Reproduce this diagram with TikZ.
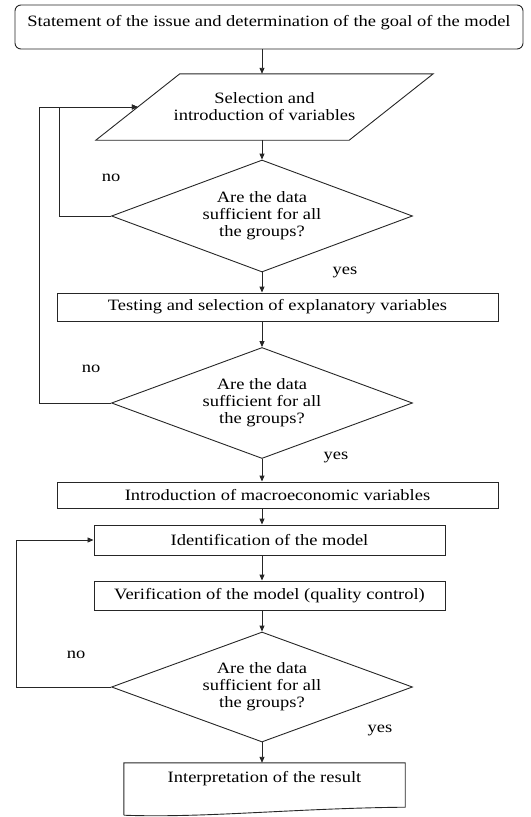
\documentclass[tikz,border=0pt]{standalone}
\usepackage{fontspec}
\setmainfont{Liberation Serif}[FakeStretch=1.17]
\usetikzlibrary{shapes.geometric,arrows.meta}
\begin{document}
\begin{tikzpicture}[x=1bp,y=-1bp,
  every node/.style={font=\fontsize{15.8bp}{17bp}\selectfont, inner sep=0pt, text=black},
  line/.style={draw=black!85, line width=0.9bp},
  arr/.style={line, -{Triangle[length=6bp,width=5bp]}},
  box/.style={line, rectangle, align=center},
  topbox/.style={line, rectangle, rounded corners=6bp, minimum width=508bp, minimum height=44bp, text height=10bp, text depth=10bp},
  dia/.style={line, diamond, aspect=2.69, align=center, minimum width=301bp},
  lbl/.style={}
]
\useasboundingbox (0,0) rectangle (531,817);

% nodes
\node[topbox] (top) at (269,27) {Statement of the issue and determination of the goal of the model};
\node[align=center, minimum width=253bp, minimum height=66bp] (par) at (264.5,107) {Selection and\\introduction of variables};
\draw[line] ([xshift=-42bp]par.south west) -- ([xshift=42bp]par.north west) -- ([xshift=42bp]par.north east) -- ([xshift=-42bp]par.south east) -- cycle;
\node[dia, minimum height=112bp] (d1) at (262,216) {Are the data\\sufficient for all\\the groups?};
\node[box, minimum width=441bp, minimum height=28bp] (test) at (277.5,307) {Testing and selection of explanatory variables};
\node[dia, minimum height=111bp] (d2) at (262,403) {Are the data\\sufficient for all\\the groups?};
\node[box, minimum width=441bp, minimum height=26bp] (intro) at (277.5,495) {Introduction of macroeconomic variables};
\node[box, minimum width=351bp, minimum height=30bp] (ident) at (269.5,540) {Identification of the model};
\node[box, minimum width=351bp, minimum height=29bp] (verif) at (269.5,595.5) {Verification of the model (quality control)};
\node[dia, minimum height=110bp] (d3) at (262,687) {Are the data\\sufficient for all\\the groups?};
\node[minimum width=281bp, minimum height=48bp, text height=11bp, text depth=21bp] (interp) at (264.5,787) {Interpretation of the result};
\draw[line] ([yshift=-4bp]interp.south west) -- (interp.north west) -- (interp.north east) -- ([yshift=4bp]interp.south east)
  .. controls +(-110,1) and +(80,3) .. ([yshift=-4bp]interp.south west);

% labels
\node (no1) at (111,178) {no};
\node (yes1) at (345,272) {yes};
\node (no2) at (91,369) {no};
\node (yes2) at (336,457) {yes};
\node (no3) at (76,655) {no};
\node (yes3) at (380,730) {yes};

% connectors
\draw[arr] (d1.north |- top.south) -- (d1.north |- par.north);
\draw[arr] (d1.north |- par.south) -- (d1.north);
\draw[arr] (d1.south) -- (d1.south |- test.north);
\draw[arr] (d1.south |- test.south) -- (d2.north);
\draw[arr] (d2.south) -- (d2.south |- intro.north);
\draw[arr] (d2.south |- intro.south) -- (d2.south |- ident.north);
\draw[arr] (d2.south |- ident.south) -- (d2.south |- verif.north);
\draw[arr] (d2.south |- verif.south) -- (d3.north);
\draw[arr] (d3.south) -- (d3.south |- interp.north);

% loops
\draw[arr] (d1.west) -- ++(-52,0) |- (par.west);
\draw[arr] (d2.west) -- ++(-72,0) |- (par.west);
\draw[arr] (d3.west) -- ++(-95,0) |- (ident.west);
\end{tikzpicture}
\end{document}
